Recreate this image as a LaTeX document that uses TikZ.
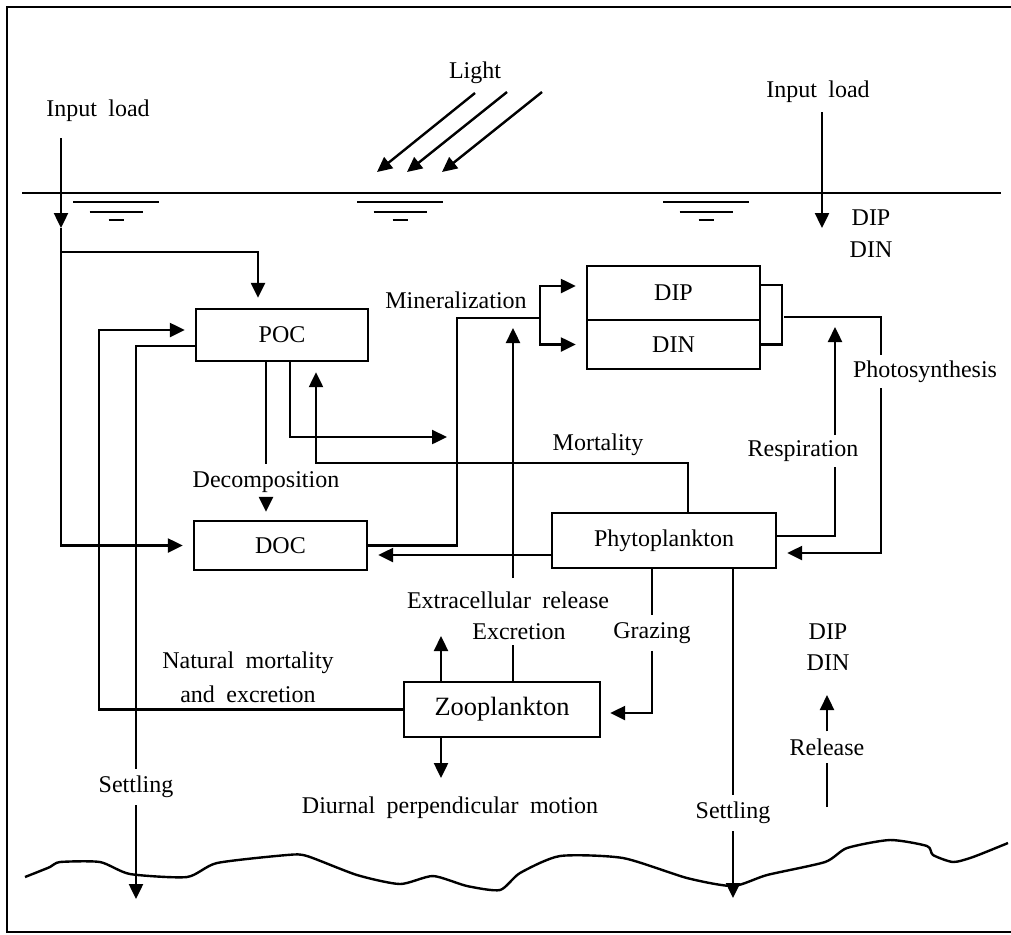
\documentclass[tikz,border=0pt]{standalone}
\usepackage{fontspec}
\setmainfont{Liberation Serif}[WordSpace=1.9]
\usetikzlibrary{arrows.meta}

\begin{document}
\begin{tikzpicture}[x=0.5pt,y=-0.5pt,line width=1.2pt,
  box/.style={draw,rectangle,inner sep=0pt,font=\fontsize{12}{14}\selectfont},
  lbl/.style={inner sep=3pt,font=\fontsize{12}{14}\selectfont},
  tip/.style={-{Triangle[length=7.5pt,width=7pt]}},
  arr/.style={tip,shorten >=5pt}]
\useasboundingbox (0,0) rectangle (1011,934);
\draw (1011,7) -- (7,7) -- (7,932) -- (1011,932);

\draw (22,193) -- (1001,193);
\foreach \wx in {116,400,706} {
  \draw (\wx-43,202) -- (\wx+43,202);
  \draw (\wx-26.5,212) -- (\wx+26.5,212);
  \draw (\wx-7.5,220) -- (\wx+7.5,220);
}

\node[box,minimum width=86pt,minimum height=26pt] (POC) at (282,335) {POC};
\node[box,minimum width=86.5pt,minimum height=24.5pt] (DOC) at (280.5,545.5) {DOC};
\node[box,minimum width=86.5pt,minimum height=27pt] (DIP) at (673.5,293) {DIP};
\node[box,minimum width=86.5pt,minimum height=24.5pt] (DIN) at (673.5,344.5) {DIN};
\node[box,minimum width=112pt,minimum height=27.5pt] (phyto) at (664,540.5) {Phytoplankton};
\node[box,minimum width=98pt,minimum height=27.5pt,font=\fontsize{13.2}{15}\selectfont] (zoo) at (502,709.5) {Zooplankton};

\node[lbl] (light) at (475,73) {Light};
\node[lbl] (inLt) at (98,111) {Input load};
\node[lbl] (inRt) at (818,92) {Input load};
\node[lbl] (dipR) at (871,218) {DIP};
\node[lbl] (dinR) at (871,250) {DIN};
\node[lbl] (minl) at (456,300) {Mineralization};
\node[lbl] (decl) at (266,482) {Decomposition};
\node[lbl] (morl) at (598,445) {Mortality};
\node[lbl] (resl) at (803,451) {Respiration};
\node[lbl] (phol) at (925,372) {Photosynthesis};
\node[lbl] (extl) at (508,600) {Extracellular release};
\node[lbl] (excl) at (519,632) {Excretion};
\node[lbl] (grzl) at (652,633) {Grazing};
\node[lbl] (nml1) at (248,663) {Natural mortality};
\node[lbl] (nml2) at (248,694) {and excretion};
\node[lbl] (setL) at (136,787) {Settling};
\node[lbl] (diul) at (450,808) {Diurnal perpendicular motion};
\node[lbl] (setR) at (733,813) {Settling};
\node[lbl] (dipB) at (828,632) {DIP};
\node[lbl] (dinB) at (828,663) {DIN};
\node[lbl] (rell) at (827,747) {Release};

\coordinate (l1s) at (475,93);  \coordinate (l1e) at (377,172);
\coordinate (l2s) at (507,92);  \coordinate (l2e) at (407,172);
\coordinate (l3s) at (542,92);  \coordinate (l3e) at (442,172);
\draw[tip] (l1s) -- (l1e);
\draw[tip] (l2s) -- (l2e);
\draw[tip] (l3s) -- (l3e);

\coordinate (inL) at (61,138);
\coordinate (inLh) at (61,228);
\coordinate (jL) at (61,252);
\draw[tip] (inL) -- (inLh);
\draw[arr] (inLh) |- (DOC.west);
\draw[arr] (jL) -| ([xshift=-12pt]POC.north);

\coordinate (inR) at (822,112);
\coordinate (inRh) at (822,228);
\draw[tip] (inR) -- (inRh);

\coordinate (nmC) at (99,330);
\draw[arr] (zoo.west) -| (nmC) -- ([yshift=2.5pt]POC.west);

\draw ([yshift=-5.5pt]POC.west) -| (setL.north);
\coordinate (setLe) at (136,899);
\draw[tip] (setL.south) -- (setLe);

\draw ([xshift=-8pt]POC.south) -- (decl.north);
\draw[tip,shorten >=4pt] (decl.south) -- ([xshift=-7.25pt]DOC.north);

\coordinate (minC) at (457,318);
\coordinate (minJ) at (540,318);
\draw (DOC.east) -| (minC) -- (minJ);
\draw[arr] (minJ) |- ([yshift=3.5pt]DIP.west);
\draw[arr] (minJ) |- (DIN.west);

\coordinate (minA) at (457,437);
\draw[arr] ([xshift=4pt]POC.south) |- (minA);

\coordinate (morC) at (316,463);
\draw[arr] ([xshift=12pt]phyto.north) |- (morC) -- ([xshift=17pt]POC.south);

\draw[arr] ([yshift=-7.25pt]phyto.west) -- ([yshift=-4.75pt]DOC.east);

\coordinate (resA) at (835,467);
\coordinate (resB) at (835,435);
\coordinate (resT) at (835,327);
\draw ([yshift=2.25pt]phyto.east) -| (resA);
\draw[tip] (resB) -- (resT);

\draw ([yshift=4pt]DIP.east) -- ++(21,0) |- (DIN.east);
\coordinate (phA) at (784,317);
\coordinate (phB) at (881,355);
\coordinate (phC) at (881,388);
\draw (phA) -| (phB);
\draw[arr] (phC) |- ([yshift=-6.25pt]phyto.east);

\coordinate (exA) at (513,578);
\coordinate (exT) at (513,328);
\coordinate (exB) at (513,645);
\draw[tip] (exA) -- (exT);
\draw ([xshift=5.5pt]zoo.north) -- (exB);

\coordinate (zuT) at (441,636);
\coordinate (zdT) at (441,778);
\draw[tip] ([xshift=-30.5pt]zoo.north) -- (zuT);
\draw[tip] ([xshift=-30.5pt]zoo.south) -- (zdT);

\draw ([xshift=-6pt]phyto.south) -- (grzl.north);
\draw[arr,shorten >=4.5pt] (grzl.south) |- ([yshift=-1.75pt]zoo.east);

\coordinate (srT) at (733,898);
\draw ([xshift=34.5pt]phyto.south) -- (setR.north);
\draw[tip] (setR.south) -- (srT);

\coordinate (rlA) at (827,807);
\coordinate (rlT) at (827,695);
\draw (rlA) -- (rell.south);
\draw[tip] (rell.north) -- (rlT);

\draw plot[smooth,tension=0.4] coordinates {(25,877) (50,867) (60,862) (100,862)
  (130,874) (187,877) (217,863) (287,855) (307,856) (357,875) (400,884) (433,876)
  (467,886) (500,890) (520,873) (560,856) (623,858) (687,878) (733,886) (767,875)
  (825,862) (847,848) (890,840) (927,846) (933,855) (953,862) (973,857) (1008,843)};
\end{tikzpicture}
\end{document}
